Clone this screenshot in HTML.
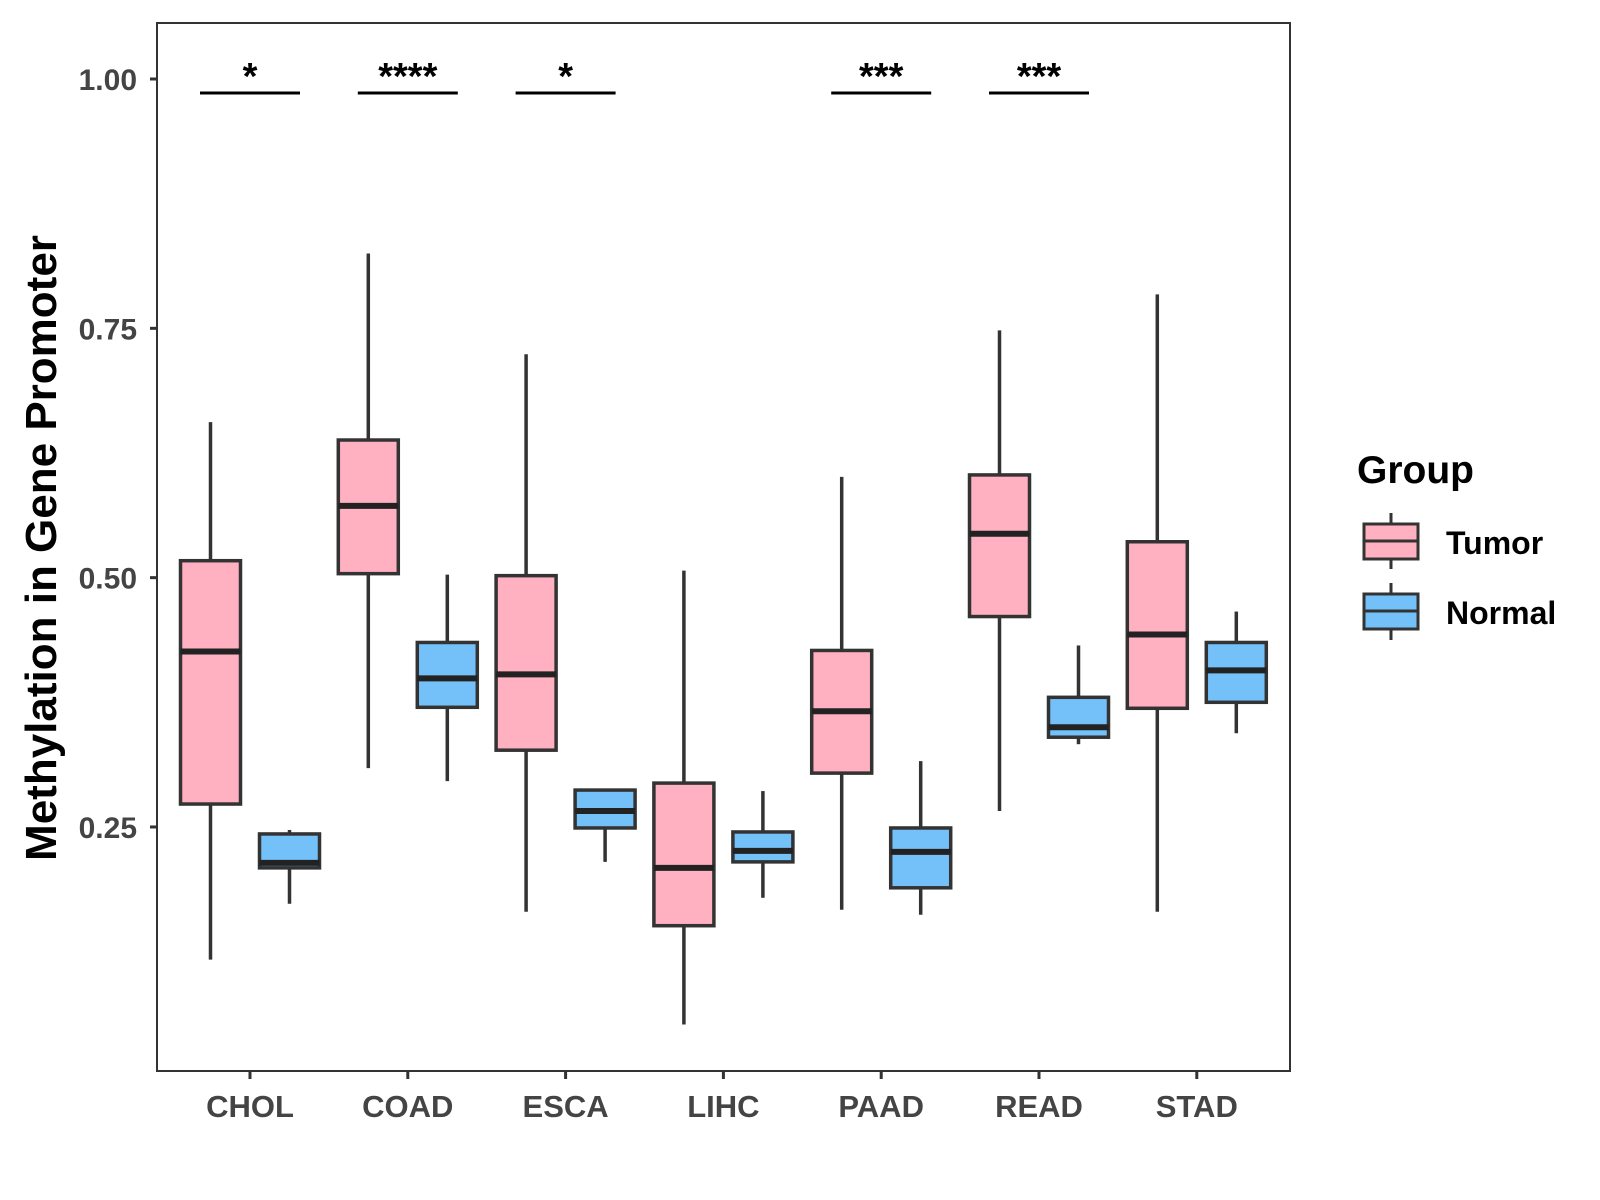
<!DOCTYPE html>
<html><head><meta charset="utf-8"><style>
body{margin:0;background:#fff}
svg{display:block;font-family:"Liberation Sans",Arial,sans-serif}
</style></head><body>
<svg id="chart" width="1600" height="1200">
<rect x="157" y="23" width="1133" height="1048" fill="#fff" stroke="#333" stroke-width="2"/>
<g id="marks"></g>
<text transform="translate(56,548) rotate(-90)" text-anchor="middle" font-size="44" font-weight="bold" fill="#000">Methylation in Gene Promoter</text>
<g>
<text x="1357" y="483" font-size="39" font-weight="bold">Group</text>
<g>
<line x1="1391" y1="513" x2="1391" y2="569" stroke="#333" stroke-width="3"/>
<rect x="1364" y="524" width="54" height="35" fill="#FFB0C1" stroke="#333" stroke-width="3"/>
<line x1="1364" y1="541" x2="1418" y2="541" stroke="#333" stroke-width="3"/>
<text x="1446" y="554" font-size="32" font-weight="bold">Tumor</text></g>
<g>
<line x1="1391" y1="583" x2="1391" y2="640" stroke="#333" stroke-width="3"/>
<rect x="1364" y="594" width="54" height="35" fill="#74C1F9" stroke="#333" stroke-width="3"/>
<line x1="1364" y1="611" x2="1418" y2="611" stroke="#333" stroke-width="3"/>
<text x="1446" y="624" font-size="32" font-weight="bold">Normal</text></g>
</g>
</svg>
<script>
const categories=["CHOL","COAD","ESCA","LIHC","PAAD","READ","STAD"];
const tumorStats=[[0.117,0.273,0.426,0.517,0.656],[0.309,0.504,0.572,0.638,0.825],[0.165,0.327,0.403,0.502,0.724],[0.052,0.151,0.209,0.294,0.507],[0.167,0.304,0.366,0.427,0.601],[0.266,0.461,0.544,0.603,0.748],[0.165,0.369,0.443,0.536,0.784]];
const normalStats=[[0.173,0.209,0.214,0.243,0.247],[0.296,0.370,0.399,0.435,0.503],[0.215,0.249,0.266,0.287,0.287],[0.179,0.215,0.226,0.245,0.286],[0.162,0.189,0.225,0.249,0.316],[0.333,0.340,0.350,0.380,0.432],[0.344,0.375,0.407,0.435,0.466]];
const sigLabels=["*","****","*","","***","***",""];
const yTicks=[0.25,0.5,0.75,1.0];
const yTickLabels=["0.25","0.50","0.75","1.00"];
const sigLevel=0.987;
const NS="http://www.w3.org/2000/svg";
const g=document.getElementById('marks');
function y(v){return 79+(1-v)*997.3;}
function x(i){return 250+i*157.8;}
function mk(t,a,parent){const e=document.createElementNS(NS,t);for(const k in a)e.setAttribute(k,a[k]);(parent||g).appendChild(e);return e;}
yTicks.forEach((v,i)=>{
 const t=mk('line',{x1:150,x2:157,y1:y(v),y2:y(v),stroke:'#333','stroke-width':3});
 
 
 const l=mk('text',{x:137,y:y(v)+11,'text-anchor':'end','font-size':30,'font-weight':'bold',fill:'#444'});
 l.textContent=yTickLabels[i];
 
 
});
function box(cx,s,fill,name){
 const gg=mk('g',{});
 
 
 mk('line',{x1:cx,x2:cx,y1:y(s[4]),y2:y(s[3]),stroke:'#333','stroke-width':3.5},gg);
 mk('line',{x1:cx,x2:cx,y1:y(s[1]),y2:y(s[0]),stroke:'#333','stroke-width':3.5},gg);
 mk('rect',{x:cx-30,y:y(s[3]),width:60,height:y(s[1])-y(s[3]),fill:fill,stroke:'#333','stroke-width':3.5},gg);
 mk('line',{x1:cx-30,x2:cx+30,y1:y(s[2]),y2:y(s[2]),stroke:'#222','stroke-width':6},gg);
}
categories.forEach((c,i)=>{
 const cx=x(i);
 box(cx-39.5,tumorStats[i],'#FFB0C1','box-tumor-'+c.toLowerCase());
 box(cx+39.5,normalStats[i],'#74C1F9','box-normal-'+c.toLowerCase());
 const t=mk('line',{x1:cx,x2:cx,y1:1071,y2:1079,stroke:'#333','stroke-width':3});
 
 
 const l=mk('text',{x:cx,y:1117,'text-anchor':'middle','font-size':31,'font-weight':'bold',fill:'#444'});
 l.textContent=c;
 
 
 if(sigLabels[i]){
  const b=mk('line',{x1:cx-50,x2:cx+50,y1:y(sigLevel)+1,y2:y(sigLevel)+1,stroke:'#000','stroke-width':3});
  
  
  const s=mk('text',{x:cx,y:y(sigLevel)-3,'text-anchor':'middle','font-size':38,'font-weight':'bold',fill:'#000'});
  s.textContent=sigLabels[i];
  
  
 }
});
</script>
</body></html>
